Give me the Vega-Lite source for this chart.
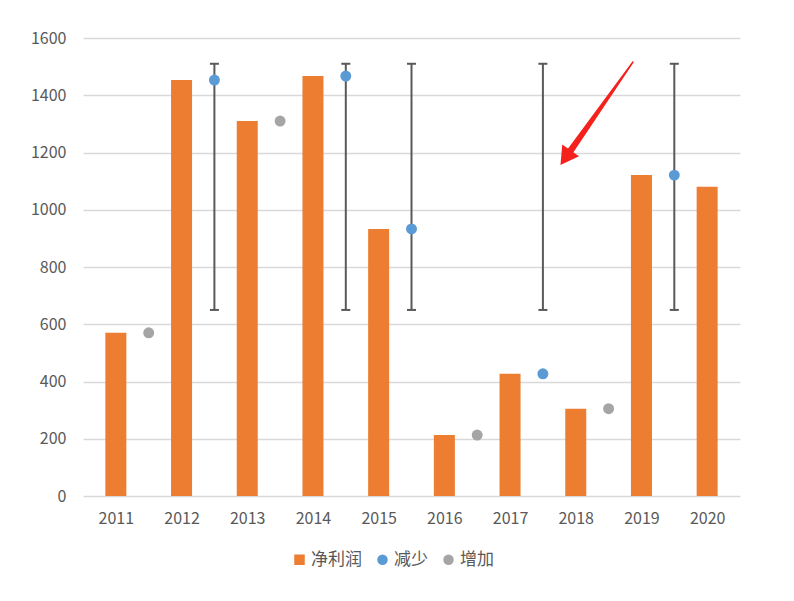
{
  "$schema": "https://vega.github.io/schema/vega-lite/v6.json",
  "width": 657,
  "height": 458,
  "autosize": {"type": "none"},
  "padding": {"left": 83, "top": 38, "right": 54, "bottom": 105},
  "background": "white",
  "config": {
    "view": {"stroke": null},
    "font": "Noto Sans CJK SC",
    "axis": {"labelColor": "#595959", "labelFontSize": 16, "ticks": false, "domain": false, "title": null},
    "legend": {
      "title": null,
      "orient": "none",
      "direction": "horizontal",
      "legendX": 208,
      "legendY": 513,
      "labelFontSize": 17,
      "labelColor": "#595959",
      "symbolSize": 110,
      "labelOffset": 3,
      "columnPadding": 12
    }
  },
  "datasets": {
    "profit": [
      {"year": 2011, "value": 570, "series": "净利润"},
      {"year": 2012, "value": 1453, "series": "净利润"},
      {"year": 2013, "value": 1310, "series": "净利润"},
      {"year": 2014, "value": 1467, "series": "净利润"},
      {"year": 2015, "value": 933, "series": "净利润"},
      {"year": 2016, "value": 213, "series": "净利润"},
      {"year": 2017, "value": 427, "series": "净利润"},
      {"year": 2018, "value": 305, "series": "净利润"},
      {"year": 2019, "value": 1121, "series": "净利润"},
      {"year": 2020, "value": 1080, "series": "净利润"}
    ],
    "change": [
      {"pos": 2011.5, "value": 570, "series": "增加"},
      {"pos": 2012.5, "value": 1453, "series": "减少"},
      {"pos": 2013.5, "value": 1310, "series": "增加"},
      {"pos": 2014.5, "value": 1467, "series": "减少"},
      {"pos": 2015.5, "value": 933, "series": "减少"},
      {"pos": 2016.5, "value": 213, "series": "增加"},
      {"pos": 2017.5, "value": 427, "series": "减少"},
      {"pos": 2018.5, "value": 305, "series": "增加"},
      {"pos": 2019.5, "value": 1121, "series": "减少"}
    ],
    "errors": [
      {"pos": 2012.5, "lo": 650, "hi": 1510},
      {"pos": 2014.5, "lo": 650, "hi": 1510},
      {"pos": 2015.5, "lo": 650, "hi": 1510},
      {"pos": 2017.5, "lo": 650, "hi": 1510},
      {"pos": 2019.5, "lo": 650, "hi": 1510}
    ],
    "arrow": [
      {"ax": 2018.871, "ay": 1516, "step": 1},
      {"ax": 2017.845, "ay": 1182, "step": 2}
    ]
  },
  "encoding": {
    "x": {
      "type": "quantitative",
      "scale": {"domain": [2010.5, 2020.5], "nice": false, "zero": false, "padding": 0},
      "axis": {
        "values": [2011, 2012, 2013, 2014, 2015, 2016, 2017, 2018, 2019, 2020],
        "format": "d",
        "grid": false,
        "labelFlush": false,
        "labelOverlap": false,
        "labelPadding": 14
      }
    },
    "y": {
      "type": "quantitative",
      "scale": {"domain": [0, 1600], "nice": false},
      "axis": {
        "values": [0, 200, 400, 600, 800, 1000, 1200, 1400, 1600],
        "format": "d",
        "gridColor": "#d9d9d9",
        "gridWidth": 1.3,
        "labelPadding": 17
      }
    }
  },
  "layer": [
    {
      "data": {"name": "profit"},
      "mark": {"type": "bar", "width": 21},
      "encoding": {
        "x": {"field": "year"},
        "y": {"field": "value"},
        "color": {
          "field": "series",
          "type": "nominal",
          "scale": {"domain": ["净利润", "减少", "增加"], "range": ["#ED7D31", "#5B9BD5", "#A5A5A5"]}
        }
      }
    },
    {
      "data": {"name": "errors"},
      "mark": {"type": "rule", "color": "#595959", "strokeWidth": 2},
      "encoding": {
        "x": {"field": "pos"},
        "y": {"field": "lo"},
        "y2": {"field": "hi"}
      }
    },
    {
      "data": {"name": "errors"},
      "mark": {"type": "tick", "orient": "horizontal", "color": "#595959", "size": 9, "thickness": 2, "opacity": 1},
      "encoding": {
        "x": {"field": "pos"},
        "y": {"field": "hi"}
      }
    },
    {
      "data": {"name": "errors"},
      "mark": {"type": "tick", "orient": "horizontal", "color": "#595959", "size": 9, "thickness": 2, "opacity": 1},
      "encoding": {
        "x": {"field": "pos"},
        "y": {"field": "lo"}
      }
    },
    {
      "data": {"name": "change"},
      "mark": {"type": "point", "filled": true, "size": 120, "opacity": 1},
      "encoding": {
        "x": {"field": "pos"},
        "y": {"field": "value"},
        "color": {"field": "series", "type": "nominal"},
        "shape": {
          "field": "series",
          "type": "nominal",
          "scale": {"domain": ["净利润", "减少", "增加"], "range": ["square", "circle", "circle"]}
        }
      }
    },
    {
      "data": {"name": "arrow"},
      "mark": {"type": "trail", "color": "#f5211d"},
      "encoding": {
        "x": {"field": "ax"},
        "y": {"field": "ay"},
        "order": {"field": "step", "type": "quantitative"},
        "size": {
          "field": "step",
          "type": "quantitative",
          "scale": {"domain": [1, 2], "range": [1.5, 7]},
          "legend": null
        }
      }
    },
    {
      "data": {"name": "arrow"},
      "transform": [{"filter": "datum.step == 2"}],
      "mark": {"type": "point", "shape": "triangle-up", "filled": true, "size": 420, "angle": 215, "opacity": 1, "color": "#f5211d"},
      "encoding": {
        "x": {"field": "ax"},
        "y": {"field": "ay"}
      }
    }
  ]
}
